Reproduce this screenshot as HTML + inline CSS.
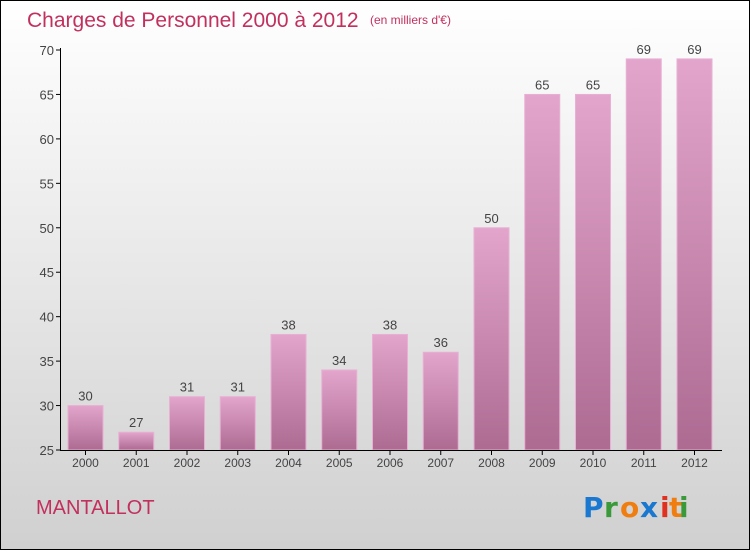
<!DOCTYPE html>
<html><head><meta charset="utf-8"><style>
body{margin:0}
#c{width:748px;height:548px;border:1px solid #000;background:linear-gradient(#ffffff,#d0d0d0);position:relative;overflow:hidden;font-family:"Liberation Sans",sans-serif}
</style></head><body>
<div id="c">
<svg width="748" height="548" viewBox="1 1 748 548" style="position:absolute;left:0;top:0" id="svg">
<defs><linearGradient id="bg" x1="0" y1="0" x2="0" y2="1"><stop offset="0" stop-color="#e3a5cc"/><stop offset="1" stop-color="#ad6b92"/></linearGradient></defs>
<text x="27" y="27" font-size="21" fill="#c2305e">Charges de Personnel 2000 à 2012</text>
<text x="370" y="24" font-size="12" fill="#c2305e">(en milliers d'€)</text>
<text x="36" y="514" font-size="20" fill="#c2305e">MANTALLOT</text>
<g font-size="28" font-weight="bold" font-family="DejaVu Sans,sans-serif">
<text x="583" y="517" fill="#1a78d0">P</text><text x="604" y="517" fill="#3a9a3a">r</text><text x="620" y="517" fill="#f07d10">o</text><text x="640" y="517" fill="#1a78d0">x</text><text x="660" y="517" fill="#e03020">i</text><text x="669" y="517" fill="#f07d10">t</text><text x="679" y="517" fill="#3a9a3a">i</text></g>
<g id="plot"></g>
</svg></div>
<script>
const years=["2000","2001","2002","2003","2004","2005","2006","2007","2008","2009","2010","2011","2012"];
const values=[30,27,31,31,38,34,38,36,50,65,65,69,69];
const yTicks=[25,30,35,40,45,50,55,60,65,70];
const NS="http://www.w3.org/2000/svg";
const g=document.getElementById('plot');
const y=v=>450-(v-25)*400/45;
const step=50.75,x0=60.5;
const x=i=>x0+i*step;
function el(t,a){const e=document.createElementNS(NS,t);for(const k in a)e.setAttribute(k,a[k]);g.appendChild(e);return e;}
yTicks.forEach(t=>{
const l=el('line',{x1:56,x2:61,y1:y(t),y2:y(t),stroke:'#000'});


const tx=el('text',{x:54,y:y(t)+5,'text-anchor':'end','font-size':13,fill:'#444'});
tx.textContent=t;


});
values.forEach((v,i)=>{
const r=el('rect',{x:x(i)+7.5,y:y(v),width:35,height:450-y(v),fill:'url(#bg)',stroke:'#e8b0d4','stroke-width':1});


const t=el('text',{x:x(i)+25,y:y(v)-5,'text-anchor':'middle','font-size':13,fill:'#444'});
t.textContent=v;


const tk=el('line',{x1:x(i)+25,x2:x(i)+25,y1:450,y2:455,stroke:'#000'});


const xl=el('text',{x:x(i)+25,y:467,'text-anchor':'middle','font-size':12,fill:'#444'});
xl.textContent=years[i];


});
const ya=el('line',{x1:60.5,x2:60.5,y1:48,y2:450,stroke:'#000'});


const xa=el('line',{x1:60,x2:722,y1:450.5,y2:450.5,stroke:'#000'});


</script>
</body></html>
